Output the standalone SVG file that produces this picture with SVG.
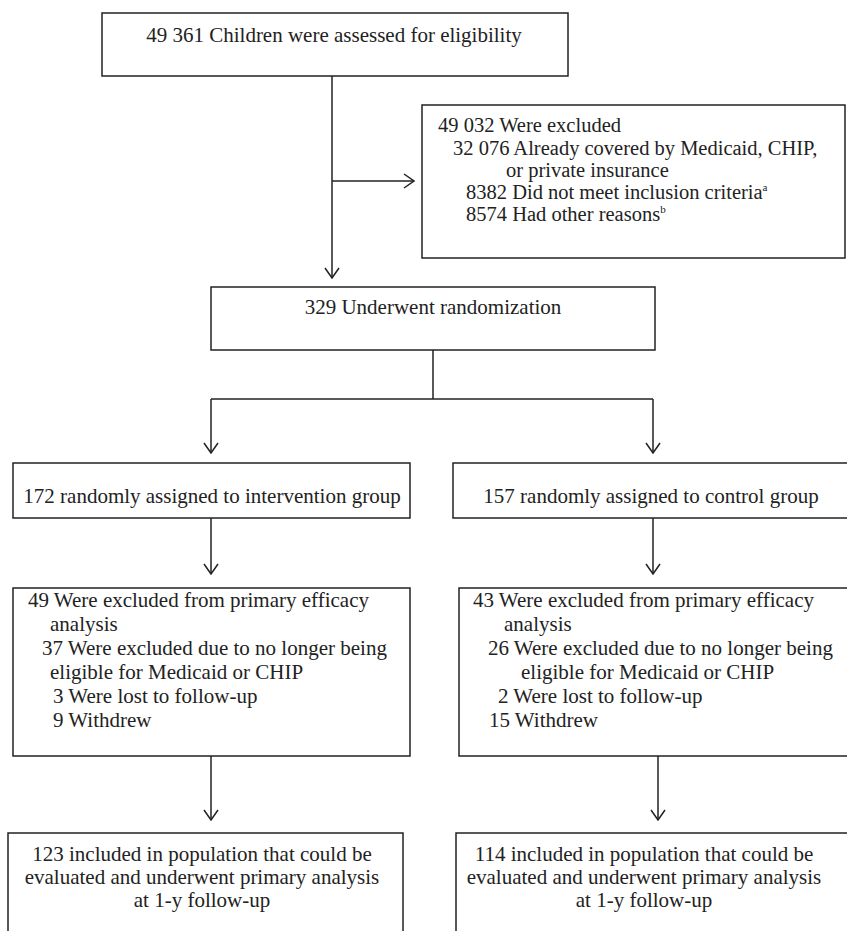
<svg xmlns="http://www.w3.org/2000/svg" width="847" height="931" viewBox="0 0 847 931">
<style>
.box{fill:#fff;stroke:#222;stroke-width:1.5}
.t{font-family:"Liberation Serif","Times New Roman",serif;font-size:21px;fill:#222}
.s{font-size:20.5px}
.c{text-anchor:middle}
.ln{fill:none;stroke:#222;stroke-width:1.5}
.sup{font-size:11px}
</style>
<defs>
<marker id="ah" viewBox="0 0 12 16" refX="11" refY="8" markerWidth="12" markerHeight="16" markerUnits="userSpaceOnUse" orient="auto">
<path d="M1,1 L11,8 L1,15" fill="none" stroke="#222" stroke-width="1.5"/>
</marker>
</defs>
<rect width="847" height="931" fill="#fff"/>
<g id="connectors">
<line class="ln" x1="332" y1="76" x2="332" y2="278" marker-end="url(#ah)"/>
<line class="ln" x1="332" y1="181" x2="414" y2="181" marker-end="url(#ah)"/>
<line class="ln" x1="433" y1="350" x2="433" y2="399"/>
<line class="ln" x1="211" y1="399" x2="653" y2="399"/>
<line class="ln" x1="211" y1="399" x2="211" y2="453" marker-end="url(#ah)"/>
<line class="ln" x1="653" y1="399" x2="653" y2="453" marker-end="url(#ah)"/>
<line class="ln" x1="211" y1="518" x2="211" y2="574" marker-end="url(#ah)"/>
<line class="ln" x1="653" y1="518" x2="653" y2="574" marker-end="url(#ah)"/>
<line class="ln" x1="211" y1="756" x2="211" y2="820" marker-end="url(#ah)"/>
<line class="ln" x1="658" y1="756" x2="658" y2="820" marker-end="url(#ah)"/>
</g>
<g id="assessed">
<rect class="box" x="102" y="13" width="466" height="63"/>
<text class="t c" x="334" y="42">49 361 Children were assessed for eligibility</text>
</g>
<g id="excluded">
<rect class="box" x="422" y="105" width="423" height="153"/>
<text class="t s" x="438" y="132">49 032 Were excluded</text>
<text class="t s" x="453" y="155">32 076 Already covered by Medicaid, CHIP,</text>
<text class="t s" x="506" y="177">or private insurance</text>
<text class="t s" x="466" y="199">8382 Did not meet inclusion criteria<tspan class="sup" dy="-8">a</tspan></text>
<text class="t s" x="466" y="221">8574 Had other reasons<tspan class="sup" dy="-8">b</tspan></text>
</g>
<g id="randomization">
<rect class="box" x="211" y="287" width="444" height="63"/>
<text class="t c" x="433" y="314">329 Underwent randomization</text>
</g>
<g id="intervention">
<rect class="box" x="13" y="463" width="397" height="55"/>
<text class="t c" x="212" y="503">172 randomly assigned to intervention group</text>
</g>
<g id="control">
<rect class="box" x="453" y="463" width="400" height="55"/>
<text class="t c" x="651" y="503">157 randomly assigned to control group</text>
</g>
<g id="excl-intervention">
<rect class="box" x="13" y="588" width="397" height="168"/>
<text class="t" x="28" y="607">49 Were excluded from primary efficacy</text>
<text class="t" x="50" y="631">analysis</text>
<text class="t" x="42" y="655">37 Were excluded due to no longer being</text>
<text class="t" x="50" y="679">eligible for Medicaid or CHIP</text>
<text class="t" x="53" y="703">3 Were lost to follow-up</text>
<text class="t" x="53" y="727">9 Withdrew</text>
</g>
<g id="excl-control">
<rect class="box" x="459" y="588" width="400" height="168"/>
<text class="t" x="473" y="607">43 Were excluded from primary efficacy</text>
<text class="t" x="504" y="631">analysis</text>
<text class="t" x="488" y="655">26 Were excluded due to no longer being</text>
<text class="t" x="521" y="679">eligible for Medicaid or CHIP</text>
<text class="t" x="498" y="703">2 Were lost to follow-up</text>
<text class="t" x="489" y="727">15 Withdrew</text>
</g>
<g id="analyzed-intervention">
<rect class="box" x="8" y="833" width="395" height="120"/>
<text class="t c" x="202" y="861">123 included in population that could be</text>
<text class="t c" x="202" y="884">evaluated and underwent primary analysis</text>
<text class="t c" x="202" y="907">at 1-y follow-up</text>
</g>
<g id="analyzed-control">
<rect class="box" x="456" y="833" width="400" height="120"/>
<text class="t c" x="644" y="861">114 included in population that could be</text>
<text class="t c" x="644" y="884">evaluated and underwent primary analysis</text>
<text class="t c" x="644" y="907">at 1-y follow-up</text>
</g>
</svg>
